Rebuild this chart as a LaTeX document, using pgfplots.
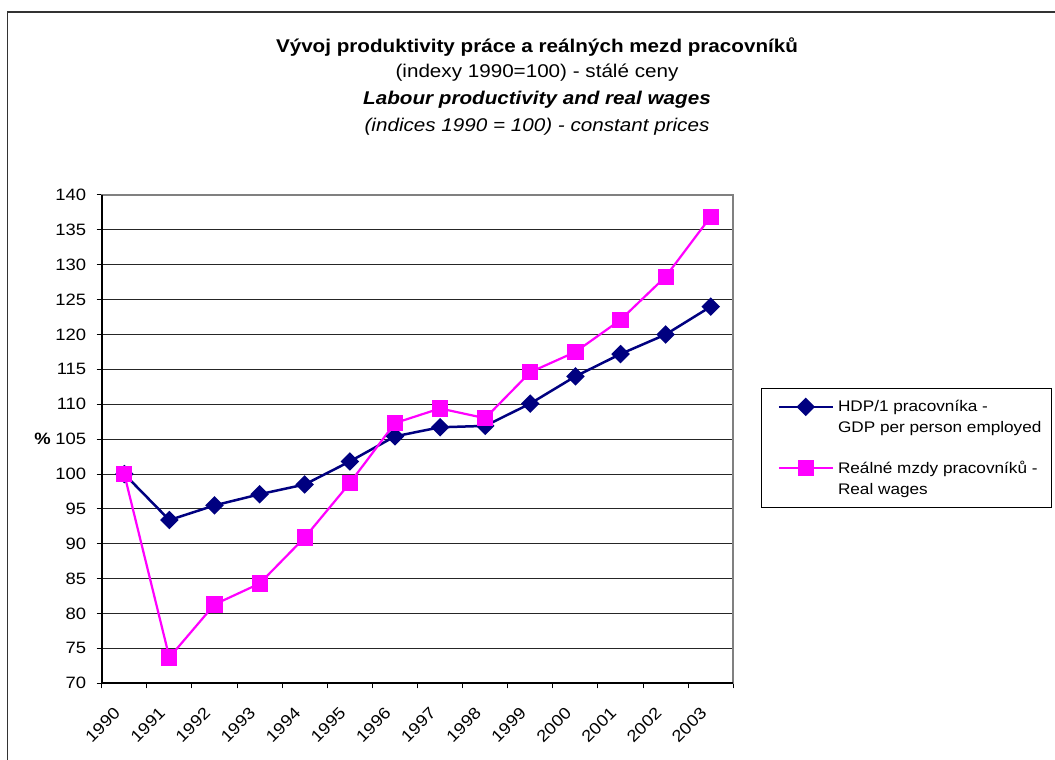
\documentclass[border=0pt]{standalone}
\usepackage{fontspec}
\setmainfont[FakeStretch=1.12]{Liberation Sans}
\usepackage{pgfplots}
\pgfplotsset{compat=1.18}
\definecolor{navyline}{RGB}{0,0,128}
\definecolor{magline}{RGB}{255,0,255}
\begin{document}
\begin{tikzpicture}[x=1bp,y=1bp]
\useasboundingbox (0,0) rectangle (1055,760);
\fill[white] (0,0) rectangle (1055,760);
\draw[line width=1.5bp, black!80] (7.5,0) -- (7.5,748) -- (1056,748);
\node[font=\bfseries\fontsize{18.5}{22}\selectfont] at (537,713) {Vývoj produktivity práce a reálných mezd pracovníků};
\node[font=\fontsize{18.5}{22}\selectfont] at (537,687) {(indexy 1990=100) - stálé ceny};
\node[font=\bfseries\itshape\fontsize{18.5}{22}\selectfont] at (537,660) {Labour productivity and real wages};
\node[font=\itshape\fontsize{18.5}{22}\selectfont] at (537,633) {(indices 1990 = 100) - constant prices};
\begin{axis}[
  at={(101.7bp,76.7bp)}, anchor=south west,
  scale only axis, width=631.6bp, height=488.3bp,
  xmin=-0.5, xmax=13.5, ymin=70, ymax=140,
  ytick={70,75,...,140},
  xtick={0,...,13},
  xticklabels={1990,1991,1992,1993,1994,1995,1996,1997,1998,1999,2000,2001,2002,2003},
  minor xtick={-0.5,0.5,...,13.5},
  tick pos=left, tick align=outside,
  major tick length=5bp, minor tick length=5bp,
  major x tick style={draw=none},
  every tick/.style={black, line width=1bp},
  minor tick style={black, line width=1bp},
  ymajorgrids, major grid style={black!85, line width=1bp},
  axis line style={black!50, line width=1.8bp},
  /pgf/number format/assume math mode=true,
  ticklabel style={font=\fontsize{16.5}{19}\selectfont},
  yticklabel style={xshift=-7bp},
  xticklabel style={inner sep=0pt, xshift=-7bp, yshift=-22bp, rotate=45, anchor=east},
  clip=false,
  legend style={at={(1.0439,0.6047)}, anchor=north west, draw=black, line width=1bp,
    font=\fontsize{15.4}{21}\selectfont, cells={align=left}, inner xsep=8bp, inner ysep=10bp,
    row sep=23bp},
  legend cell align=left,
  legend image code/.code={\path (0bp,0bp) (64bp,0bp);\draw[mark repeat=2,mark phase=2,#1] plot coordinates {(8bp,10.5bp) (35bp,10.5bp) (62bp,10.5bp)};},
]
\addplot[navyline, line width=2.5bp, mark=square*, mark size=5.3bp, mark options={rotate=45, solid, fill=navyline}]
coordinates {(0,100) (1,93.4) (2,95.5) (3,97.1) (4,98.5) (5,101.8) (6,105.4) (7,106.7) (8,106.9) (9,110.1) (10,114.0) (11,117.2) (12,120.0) (13,124.0)};
\addlegendentry{HDP/1 pracovníka -\\GDP per person employed}
\addplot[magline, line width=2.2bp, mark=square*, mark size=7bp, mark options={solid, fill=magline}]
coordinates {(0,100) (1,73.7) (2,81.3) (3,84.3) (4,90.9) (5,98.7) (6,107.3) (7,109.4) (8,108.0) (9,114.6) (10,117.5) (11,122.1) (12,128.3) (13,136.9)};
\addlegendentry{Reálné mzdy pracovníků -\\Real wages}
\draw[black, line width=1.8bp] (rel axis cs:0,1) -- (rel axis cs:0,0) -- (rel axis cs:1,0);
\node[font=\bfseries\fontsize{16.5}{19}\selectfont, anchor=east] at (rel axis cs:-0.075,0.5) {\%};
\end{axis}
\end{tikzpicture}
\end{document}
